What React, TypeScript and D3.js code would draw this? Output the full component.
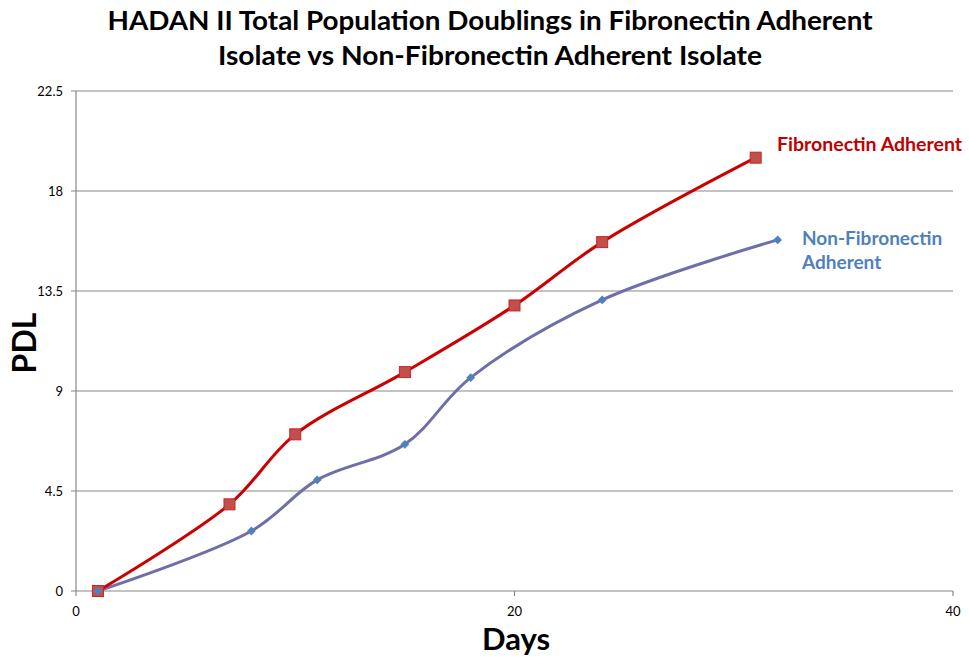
import React from "react";
import * as d3 from "d3";

const titleLines = [
  "HADAN II Total Population Doublings in Fibronectin Adherent",
  "Isolate vs Non-Fibronectin Adherent Isolate",
];
const titleWidths = [765, 544];
const xTicks = [0, 20, 40];
const yTicks = [0, 4.5, 9, 13.5, 18, 22.5];

const adherentDays = [1, 7, 10, 15, 20, 24, 31];
const adherentPDL = [0, 3.9, 7.05, 9.85, 12.85, 15.7, 19.5];
const nonAdherentDays = [1, 8, 11, 15, 18, 24, 32];
const nonAdherentPDL = [0, 2.7, 5.0, 6.6, 9.6, 13.1, 15.8];

const W = 969;
const H = 657;
const left = 76;
const right = 953;
const top = 91;
const bottom = 591;
const font = "Lato, 'Open Sans', sans-serif";

export default function App() {
  const x = d3.scaleLinear().domain([0, 40]).range([left, right]);
  const y = d3.scaleLinear().domain([0, 22.5]).range([bottom, top]);
  const line = d3
    .line<[number, number]>()
    .x((d) => x(d[0]))
    .y((d) => y(d[1]))
    .curve(d3.curveCatmullRom.alpha(0.5));

  const red: [number, number][] = adherentDays.map((d, i) => [d, adherentPDL[i]]);
  const blue: [number, number][] = nonAdherentDays.map((d, i) => [d, nonAdherentPDL[i]]);

  return (
    <svg width={W} height={H} style={{ position: "absolute", left: 0, top: 0, background: "#fff" }}>
      <rect width={W} height={H} fill="#fff" />
      {titleLines.map((t, i) => (
        <text
          key={i}
          x={490}
          y={30 + i * 35}
          textAnchor="middle"
          fontFamily={font}
          fontWeight="bold"
          fontSize={27}
          textLength={titleWidths[i]}
          lengthAdjust="spacingAndGlyphs"
          fill="#000"
        >
          {t}
        </text>
      ))}

      {yTicks.map((v) => (
        <g key={v}>
          <line x1={left - 5} x2={right} y1={y(v)} y2={y(v)} stroke="#888" strokeWidth={1.2} />
          <text x={63} y={y(v) + 4.5} textAnchor="end" fontFamily={font} fontSize={13} fill="#000">
            {v}
          </text>
        </g>
      ))}
      <line x1={left} x2={left} y1={top} y2={bottom} stroke="#888" strokeWidth={1.2} />
      {xTicks.map((v) => (
        <g key={v}>
          <line x1={x(v)} x2={x(v)} y1={bottom} y2={bottom + 5} stroke="#888" strokeWidth={1.2} />
          <text x={x(v)} y={bottom + 25} textAnchor="middle" fontFamily={font} fontSize={13} fill="#000">
            {v}
          </text>
        </g>
      ))}

      <text x={516} y={650} textAnchor="middle" fontFamily={font} fontWeight="bold" fontSize={31} fill="#000">
        Days
      </text>
      <text
        transform={`translate(${36},${343}) rotate(-90)`}
        textAnchor="middle"
        fontFamily={font}
        fontWeight="bold"
        fontSize={32}
        fill="#000"
      >
        PDL
      </text>

      <path d={line(blue) ?? ""} fill="none" stroke="#6E6EA8" strokeWidth={3} />
      <path d={line(red) ?? ""} fill="none" stroke="#CC0000" strokeWidth={3} />

      {red.map((d, i) => (
        <rect
          key={i}
          x={x(d[0]) - 5.5}
          y={y(d[1]) - 5.5}
          width={11}
          height={11}
          fill="#C0504D"
          stroke="#CC2222"
          strokeWidth={1}
        />
      ))}
      {blue.map((d, i) => (
        <path
          key={i}
          d={d3.symbol(d3.symbolDiamond2, 50)() ?? ""}
          transform={`translate(${x(d[0])},${y(d[1])})`}
          fill="#4F81BD"
        />
      ))}

      <text x={777} y={151} fontFamily={font} fontWeight="bold" fontSize={19.5} fill="#C00000">
        Fibronectin Adherent
      </text>
      <text x={802} y={245} fontFamily={font} fontWeight="bold" fontSize={19} fill="#4F81BD">
        Non-Fibronectin
      </text>
      <text x={802} y={269} fontFamily={font} fontWeight="bold" fontSize={19} fill="#4F81BD">
        Adherent
      </text>
    </svg>
  );
}
